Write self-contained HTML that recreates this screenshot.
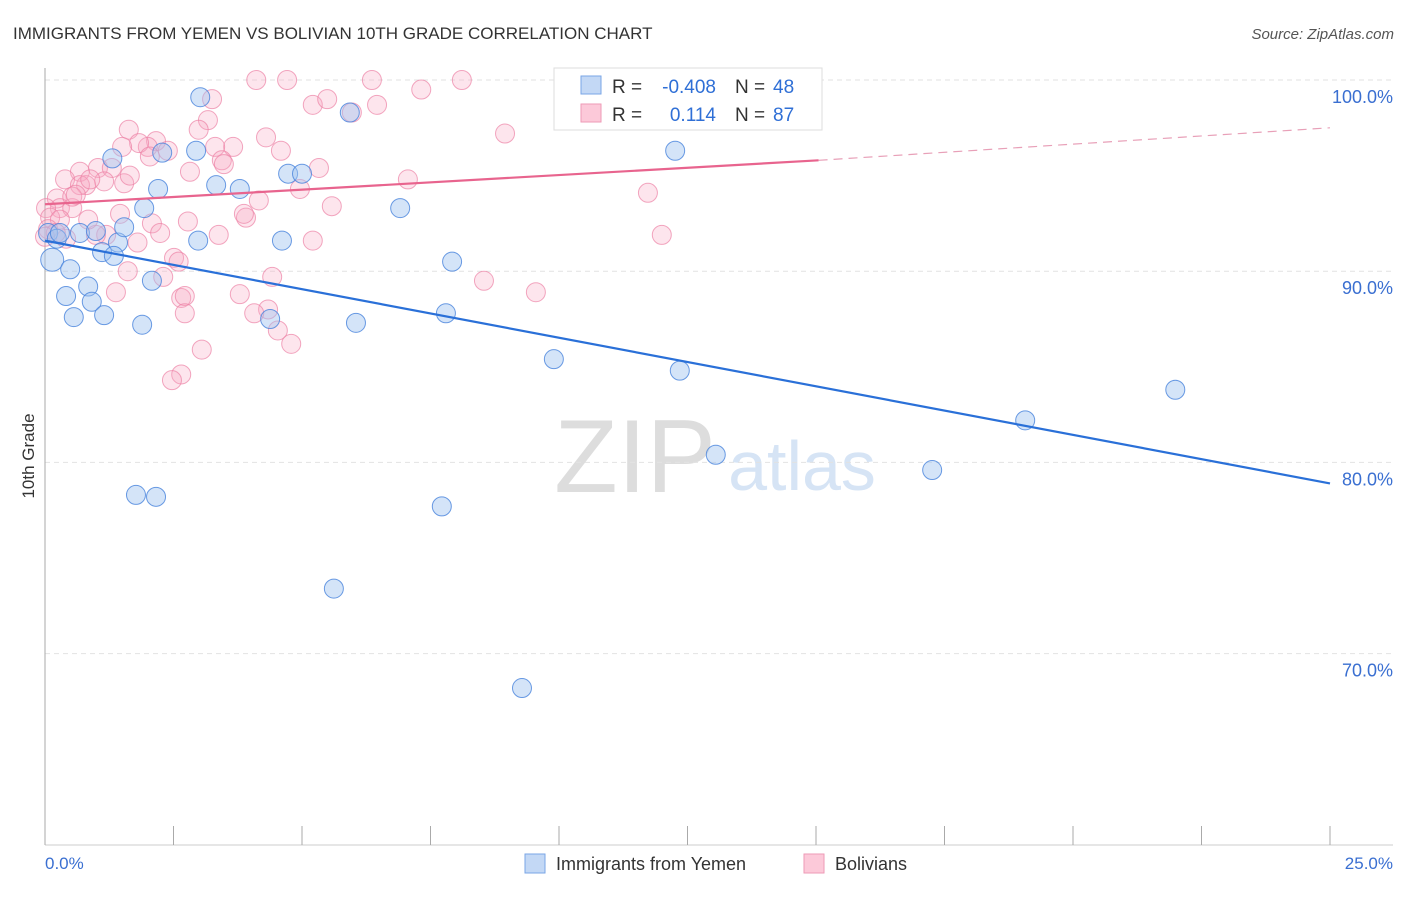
<!DOCTYPE html>
<html><head><meta charset="utf-8"><style>
body{margin:0;background:#fff;font-family:"Liberation Sans",sans-serif}
svg text{font-family:"Liberation Sans",sans-serif}
</style></head><body>
<svg id="c" width="1406" height="892">
<text x="13" y="39" font-size="17" fill="#333">IMMIGRANTS FROM YEMEN VS BOLIVIAN 10TH GRADE CORRELATION CHART</text>
<text x="1394" y="39" font-size="15" fill="#555" text-anchor="end" font-style="italic">Source: ZipAtlas.com</text>
<text x="635" y="492" font-size="104" fill="#ddd" font-family="Liberation Serif" text-anchor="middle">ZIP</text>
<text x="802" y="490" font-size="70" fill="#d6e4f5" text-anchor="middle">atlas</text>
<g id="grid"></g><g id="axes"></g><g id="pts"></g><g id="lines"></g>
<text transform="translate(34,456) rotate(-90)" font-size="17" fill="#333" text-anchor="middle">10th Grade</text>
<text x="45" y="869" font-size="17" fill="#3a6fd1">0.0%</text>
<text x="1393" y="869" font-size="17" fill="#3a6fd1" text-anchor="end">25.0%</text>
<g>
<rect x="554" y="68" width="268" height="62" fill="#fff" stroke="#ddd"/>
<rect x="581" y="76" width="20" height="18" fill="#c3d8f5" stroke="#7aa6e6"/>
<rect x="581" y="104" width="20" height="18" fill="#fcc9d9" stroke="#ee9ab6"/>
<text x="612" y="93" font-size="19" fill="#333">R =</text>
<text x="716" y="93" font-size="19" fill="#2f6fd6" text-anchor="end">-0.408</text>
<text x="735" y="93" font-size="19" fill="#333">N =</text>
<text x="773" y="93" font-size="19" fill="#2f6fd6">48</text>
<text x="612" y="121" font-size="19" fill="#333">R =</text>
<text x="716" y="121" font-size="19" fill="#2f6fd6" text-anchor="end">0.114</text>
<text x="735" y="121" font-size="19" fill="#333">N =</text>
<text x="773" y="121" font-size="19" fill="#2f6fd6">87</text>
</g>
<g><rect x="525" y="854" width="20" height="19" fill="#c3d8f5" stroke="#7aa6e6"/><text x="556" y="870" font-size="18" fill="#333">Immigrants from Yemen</text></g>
<g><rect x="804" y="854" width="20" height="19" fill="#fcc9d9" stroke="#ee9ab6"/><text x="835" y="870" font-size="18" fill="#333">Bolivians</text></g>
</svg>
<script>
const yTicks=[100,90,80,70];
const yTickLabels=["100.0%","90.0%","80.0%","70.0%"];
const blueX=[0.14,0.06,0.23,0.49,0.41,0.56,0.84,0.91,1.15,0.68,0.99,1.11,1.31,1.42,1.54,1.34,1.89,1.93,2.08,2.2,2.28,1.77,2.16,3.02,2.94,2.98,3.33,3.79,4.38,4.61,4.73,5.0,5.93,6.05,6.91,7.72,7.8,7.92,5.62,9.28,9.9,12.26,12.35,13.05,17.26,19.07,21.99,0.29];
const blueY=[90.6,92.0,91.7,90.1,88.7,87.6,89.2,88.4,87.7,92.0,92.1,91.0,95.9,91.5,92.3,90.8,87.2,93.3,89.5,94.3,96.2,78.3,78.2,99.1,96.3,91.6,94.5,94.3,87.5,91.6,95.1,95.1,98.3,87.3,93.3,77.7,87.8,90.5,73.4,68.2,85.4,96.3,84.8,80.4,79.6,82.2,83.8,92.0];
const blueR=[11,9,9,9,9,9,9,9,9,9,9,9,9,9,9,9,9,9,9,9,9,9,9,9,9,9,9,9,9,9,9,9,9,9,9,9,9,9,9,9,9,9,9,9,9,9,9,9];
const pinkX=[4.11,4.71,6.36,8.11,7.32,5.21,5.49,6.46,5.97,3.25,3.17,2.99,1.63,8.95,4.3,4.59,3.66,3.31,2.16,2.39,2.0,1.83,1.5,3.44,3.48,5.33,2.82,1.03,1.3,0.68,0.39,1.15,0.8,1.54,0.68,4.96,7.06,11.73,0.23,0.29,0.53,0.02,0.1,0.29,0.06,1.46,2.08,3.91,2.78,4.16,5.58,3.87,3.38,2.24,1.19,0.99,0.41,5.21,12.0,2.51,1.61,2.3,4.42,8.54,2.65,2.72,3.79,4.34,1.38,2.72,4.07,4.53,4.79,9.55,3.05,2.65,2.47,0.21,0.53,0.88,0.0,0.84,2.04,1.65,0.6,1.8,2.6];
const pinkY=[100.0,100.0,100.0,100.0,99.5,98.7,99.0,98.7,98.3,99.0,97.9,97.4,97.4,97.2,97.0,96.3,96.5,96.5,96.8,96.3,96.5,96.7,96.5,95.8,95.6,95.4,95.2,95.4,95.4,95.2,94.8,94.7,94.5,94.6,94.5,94.3,94.8,94.1,93.8,93.3,93.3,93.3,92.8,92.7,92.2,93.0,92.5,92.8,92.6,93.7,93.4,93.0,91.9,92.0,91.9,91.9,91.7,91.6,91.9,90.7,90.0,89.7,89.7,89.5,88.6,88.7,88.8,88.0,88.9,87.8,87.8,86.9,86.2,88.9,85.9,84.6,84.3,92.0,93.9,94.8,91.8,92.7,96.0,95.0,94.0,91.5,90.5];
const blueLineX=[0,25];
const blueLineY=[91.6,78.9];
const pinkLineX=[0,15.05,25];
const pinkLineY=[93.5,95.8,97.5];
const X0=45,X1=1330,XMAX=25,YTOP=80,YPER=19.12;
const sx=v=>X0+(v/XMAX)*(X1-X0);
const sy=v=>YTOP+(100-v)*YPER;
const NS="http://www.w3.org/2000/svg";
function mk(tag,attrs,parent){const e=document.createElementNS(NS,tag);for(const k in attrs)e.setAttribute(k,attrs[k]);document.getElementById(parent).appendChild(e);return e;}
yTicks.forEach((t,i)=>{
 const l=mk('line',{x1:X0,x2:1393,y1:sy(t),y2:sy(t),stroke:'#e2e2e2','stroke-dasharray':'5,4'},'grid');
 
 
 const tx=mk('text',{x:1393,y:sy(t)+23,'font-size':18,fill:'#3a6fd1','text-anchor':'end'},'grid');
 tx.textContent=yTickLabels[i];
 
 
});
const ax=mk('line',{x1:X0,x2:X0,y1:68,y2:845,stroke:'#aaa'},'axes');


const bx=mk('line',{x1:X0,x2:1393,y1:845,y2:845,stroke:'#ccc'},'axes');


for(let i=0;i<=10;i++){
 const v=i*2.5;
 const t=mk('line',{x1:sx(v),x2:sx(v),y1:826,y2:845,stroke:'#aaa'},'axes');
 
 
}
pinkX.forEach((x,i)=>{
 const c=mk('circle',{cx:sx(x),cy:sy(pinkY[i]),r:9.5,fill:'rgba(248,170,196,0.3)',stroke:'rgba(236,130,165,0.7)','stroke-width':1},'pts');
 
 
});
blueX.forEach((x,i)=>{
 const c=mk('circle',{cx:sx(x),cy:sy(blueY[i]),r:blueR[i]+0.5,fill:'rgba(160,195,240,0.45)',stroke:'rgba(70,130,220,0.8)','stroke-width':1},'pts');
 
 
});
const bl=mk('line',{x1:sx(blueLineX[0]),y1:sy(blueLineY[0]),x2:sx(blueLineX[1]),y2:sy(blueLineY[1]),stroke:'#2a70d8','stroke-width':2.2},'lines');


const pl=mk('line',{x1:sx(pinkLineX[0]),y1:sy(pinkLineY[0]),x2:sx(pinkLineX[1]),y2:sy(pinkLineY[1]),stroke:'#e8648e','stroke-width':2.2},'lines');


const pd=mk('line',{x1:sx(pinkLineX[1]),y1:sy(pinkLineY[1]),x2:sx(pinkLineX[2]),y2:sy(pinkLineY[2]),stroke:'#e8a0b8','stroke-width':1.2,'stroke-dasharray':'9,6'},'lines');


</script>
</body></html>
